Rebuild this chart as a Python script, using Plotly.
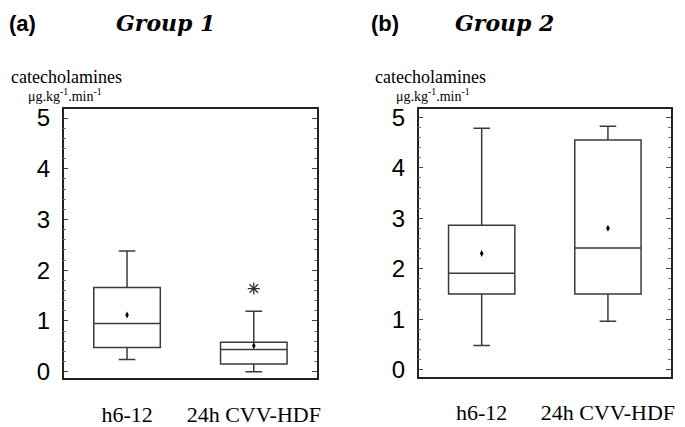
import plotly.graph_objects as go

OFF = 8  # page body margin
W, H = 685 - OFF, 427 - OFF

categories = ["h6-12", "24h CVV-HDF"]

# Group 1 box statistics
g1_lower = [0.24, 0.00]
g1_q1 = [0.48, 0.15]
g1_median = [0.95, 0.44]
g1_q3 = [1.66, 0.58]
g1_upper = [2.38, 1.19]
g1_mean = [1.12, 0.51]
g1_star_cat = ["24h CVV-HDF"]
g1_star_y = [1.64]

# Group 2 box statistics
g2_lower = [0.48, 0.96]
g2_q1 = [1.50, 1.50]
g2_median = [1.91, 2.41]
g2_q3 = [2.86, 4.55]
g2_upper = [4.78, 4.82]
g2_mean = [2.30, 2.80]

yticks = [0, 1, 2, 3, 4, 5]

fig = go.Figure()

box_line = dict(color="#3a3a3a", width=1.5)

fig.add_trace(go.Box(
    x=categories, q1=g1_q1, median=g1_median, q3=g1_q3,
    lowerfence=g1_lower, upperfence=g1_upper,
    fillcolor="white", line=box_line, whiskerwidth=0.25,
    xaxis="x", yaxis="y", showlegend=False, hoverinfo="skip"))
fig.add_trace(go.Scatter(
    x=categories, y=g1_mean, mode="markers",
    marker=dict(symbol="diamond-tall", size=5, color="black"),
    xaxis="x", yaxis="y", showlegend=False))
fig.add_trace(go.Scatter(
    x=g1_star_cat, y=g1_star_y, mode="markers",
    marker=dict(symbol="asterisk-open", size=10, color="#333",
                line=dict(color="#333", width=1.3)),
    xaxis="x", yaxis="y", showlegend=False))

fig.add_trace(go.Box(
    x=categories, q1=g2_q1, median=g2_median, q3=g2_q3,
    lowerfence=g2_lower, upperfence=g2_upper,
    fillcolor="white", line=box_line, whiskerwidth=0.25,
    xaxis="x2", yaxis="y2", showlegend=False, hoverinfo="skip"))
fig.add_trace(go.Scatter(
    x=categories, y=g2_mean, mode="markers",
    marker=dict(symbol="diamond-tall", size=5, color="black"),
    xaxis="x2", yaxis="y2", showlegend=False))


def px_x(x):
    return (x - OFF) / W


def px_y(y):
    return 1 - (y - OFF) / H


def xax(x0, x1, anchor):
    return dict(domain=[px_x(x0), px_x(x1)], anchor=anchor, type="category",
                categoryorder="array", categoryarray=categories,
                range=[-0.5, 1.5], showline=True, linecolor="#222", linewidth=1.5,
                mirror=True, ticks="", showgrid=False, zeroline=False,
                tickfont=dict(family="Liberation Serif", size=22, color="black"),
                ticklabelstandoff=15)


def yax(y_top, y_bot, anchor, rng):
    return dict(domain=[px_y(y_bot), px_y(y_top)], anchor=anchor, range=rng,
                tickvals=yticks, ticks="inside", ticklen=5, tickcolor="#444",
                tickwidth=1, showline=True, linecolor="#222", linewidth=1.5,
                mirror="ticks", showgrid=False, zeroline=False,
                minor=dict(dtick=0.2, ticks="inside", ticklen=3, tickcolor="#777", showgrid=False),
                tickfont=dict(family="Liberation Sans", size=24, color="black"),
                ticklabelstandoff=7)


fig.update_layout(
    width=W, height=H, margin=dict(l=0, r=0, t=0, b=0),
    paper_bgcolor="white", plot_bgcolor="white",
    boxgap=0.25,
    xaxis=xax(64, 319, "y"),
    yaxis=yax(107, 386, "x", [-0.133, 5.17]),
    xaxis2=xax(421, 675, "y2"),
    yaxis2=yax(107, 384, "x2", [-0.134, 5.153]),
)


def ann(text, x, y, font, xanchor="center"):
    fig.add_annotation(text=text, x=px_x(x), y=px_y(y), xref="paper", yref="paper",
                       showarrow=False, xanchor=xanchor, yanchor="middle", font=font)


label_font = dict(family="Liberation Sans", size=22, color="black")
group_font = dict(family="DejaVu Serif", size=22, color="black")
unit_font = dict(family="Liberation Serif", size=18, color="black")
unit2_font = dict(family="Liberation Serif", size=14, color="black")

ann("<b>(a)</b>", 7, 18, label_font, "left")
ann("<b><i>Group 1</i></b>", 166, 17, group_font)
ann("<b>(b)</b>", 371, 18, label_font, "left")
ann("<b><i>Group 2</i></b>", 507, 17, group_font)

ann("catecholamines", 67, 73, unit_font)
ann("μg.kg<sup>-1</sup>.min<sup>-1</sup>", 65, 92, unit2_font)
ann("catecholamines", 433, 73, unit_font)
ann("μg.kg<sup>-1</sup>.min<sup>-1</sup>", 436, 92, unit2_font)

fig.write_html("out.html")
